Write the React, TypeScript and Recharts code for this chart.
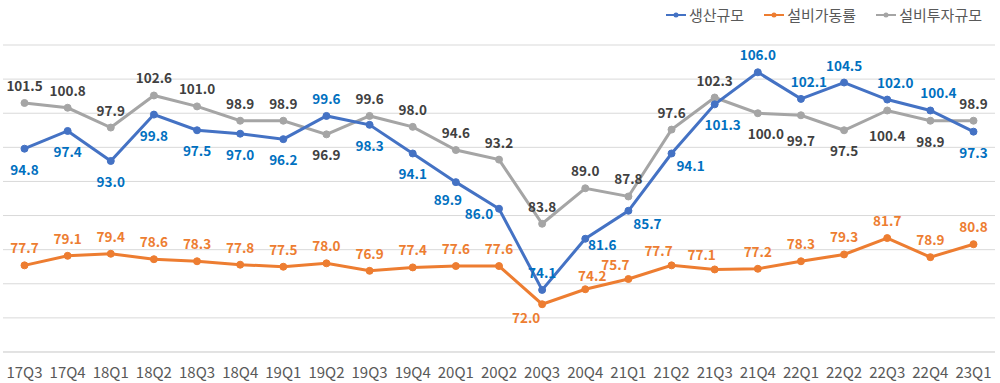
import React from "react";
import { LineChart, Line, XAxis, YAxis, CartesianGrid, LabelList } from "recharts";

const categories = ["17Q3","17Q4","18Q1","18Q2","18Q3","18Q4","19Q1","19Q2","19Q3","19Q4","20Q1","20Q2","20Q3","20Q4","21Q1","21Q2","21Q3","21Q4","22Q1","22Q2","22Q3","22Q4","23Q1"];
const production = [94.8,97.4,93.0,99.8,97.5,97.0,96.2,99.6,98.3,94.1,89.9,86.0,74.1,81.6,85.7,94.1,101.3,106.0,102.1,104.5,102.0,100.4,97.3];
const utilization = [77.7,79.1,79.4,78.6,78.3,77.8,77.5,78.0,76.9,77.4,77.6,77.6,72.0,74.2,75.7,77.7,77.1,77.2,78.3,79.3,81.7,78.9,80.8];
const investment = [101.5,100.8,97.9,102.6,101.0,98.9,98.9,96.9,99.6,98.0,94.6,93.2,83.8,89.0,87.8,97.6,102.3,100.0,99.7,97.5,100.4,98.9,98.9];
const yTicks = [65,70,75,80,85,90,95,100,105,110];

const seriesNames = { production: "생산규모", utilization: "설비가동률", investment: "설비투자규모" };

// label placement codes per point
const productionPlace = ["B","B","B","B","B","B","B","T","B","B","BL","L","T","R","BR","BR","BR2","T","TR","T","TR","TR","B"];
const utilizationPlace = ["T","T","T","T","T","T","T","T","T","T","T","T","BL2","TR2","TL","TL","TL","T","T","T","T","T","T"];
const investmentPlace = ["T","T","T","T","T","T","T","B","T","T","T","T","T","T","T","T","T","BR2","BB","B","BB","B","T"];

const OFFSETS: Record<string, [number, number]> = {
  T: [0, -18], B: [0, 20], BB: [0, 25], L: [-20, 4], R: [17, 5], BL: [-8, 17],
  BR: [19, 12], BR2: [8, 20], TR: [8, -18], TR2: [7, -14], TL: [-13, -15], BL2: [-16, 13],
};

const COLORS = {
  production: "#4472C4", utilization: "#ED7D31", investment: "#A5A5A5",
  productionText: "#0070C0", utilizationText: "#ED7D31", investmentText: "#404040",
};

const FONT = "'Noto Sans CJK KR', 'Noto Sans', sans-serif";

const data = categories.map((c, i) => ({
  cat: c,
  production: production[i],
  utilization: utilization[i],
  investment: investment[i],
}));

const makeLabel = (places: string[], color: string) => (props: any) => {
  const { x, y, value, index } = props;
  const [dx, dy] = OFFSETS[places[index]] || [0, -18];
  return (
    <text
      x={x + dx}
      y={y + dy}
      textAnchor="middle"
      dominantBaseline="central"
      fill={color}
      fontSize={13.5}
      fontWeight={700}
      fontFamily={FONT}
    >
      {Number(value).toFixed(1)}
    </text>
  );
};

const LegendItem = ({ color, label }: { color: string; label: string }) => (
  <div style={{ display: "flex", alignItems: "center", marginLeft: 20 }}>
    <svg width={20} height={10} style={{ marginRight: 3 }}>
      <line x1={0} y1={5} x2={20} y2={5} stroke={color} strokeWidth={2} />
      <circle cx={10} cy={5} r={2.5} fill={color} />
    </svg>
    <span style={{ fontSize: 15, lineHeight: "20px", color: "#595959", fontFamily: FONT }}>{label}</span>
  </div>
);

export default function App() {
  return (
    <div style={{ position: "absolute", left: 0, top: 0, width: 1000, height: 383, background: "#fff" }}>
      <div style={{ position: "absolute", left: 0, top: 5, width: 982, display: "flex", justifyContent: "flex-end" }}>
        <LegendItem color={COLORS.production} label={seriesNames.production} />
        <LegendItem color={COLORS.utilization} label={seriesNames.utilization} />
        <LegendItem color={COLORS.investment} label={seriesNames.investment} />
      </div>
      <LineChart width={1000} height={383} data={data} margin={{ top: 45, right: 5, bottom: 1, left: 3 }}>
        <CartesianGrid horizontal vertical={false} stroke="#d9d9d9" />
        <YAxis hide domain={[65, 110]} ticks={yTicks} type="number" />
        <XAxis
          dataKey="cat"
          padding={{ left: 21.5, right: 21.5 }}
          axisLine={{ stroke: "#d9d9d9" }}
          tickLine={false}
          tickSize={6}
          tickMargin={9}
          interval={0}
          height={30}
          tick={{ fontSize: 15, fill: "#595959", fontFamily: FONT }}
        />
        <Line dataKey="investment" stroke={COLORS.investment} strokeWidth={3} isAnimationActive={false}
          dot={{ r: 3.5, fill: COLORS.investment, stroke: COLORS.investment, strokeWidth: 1 }}>
          <LabelList dataKey="investment" content={makeLabel(investmentPlace, COLORS.investmentText)} />
        </Line>
        <Line dataKey="utilization" stroke={COLORS.utilization} strokeWidth={3} isAnimationActive={false}
          dot={{ r: 3.5, fill: COLORS.utilization, stroke: COLORS.utilization, strokeWidth: 1 }}>
          <LabelList dataKey="utilization" content={makeLabel(utilizationPlace, COLORS.utilizationText)} />
        </Line>
        <Line dataKey="production" stroke={COLORS.production} strokeWidth={3} isAnimationActive={false}
          dot={{ r: 3.5, fill: COLORS.production, stroke: COLORS.production, strokeWidth: 1 }}>
          <LabelList dataKey="production" content={makeLabel(productionPlace, COLORS.productionText)} />
        </Line>
      </LineChart>
    </div>
  );
}
